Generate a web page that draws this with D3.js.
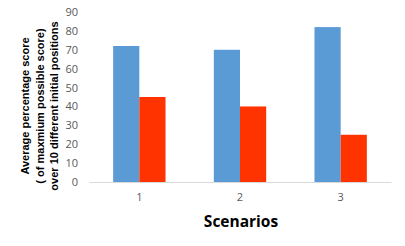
<!DOCTYPE html>
<html lang="en">
<head>
<meta charset="utf-8">
<title>Scenarios</title>
<script src="https://d3js.org/d3.v7.min.js"></script>
<style>
  body { margin: 0; background: #fff; }
</style>
</head>
<body>
<div id="chart"></div>
<script>
  // Data
  var scenarios = ["1", "2", "3"];
  var seriesNames = ["A", "B"];
  var seriesA = [72, 70, 82];
  var seriesB = [45, 40, 25];
  var yTicks = [0, 10, 20, 30, 40, 50, 60, 70, 80, 90];
  var titleLines = ["Average percentage score", "( of maxmium possible score)", "over 10 different initial positions"];

  var colors = ["#5b9bd5", "#ff3300"];
  var W = 405, H = 246;
  var margin = {top: 12, right: 14, bottom: 64, left: 89};
  var width = W - margin.left - margin.right,
      height = H - margin.top - margin.bottom;

  var svg = d3.select("#chart").append("svg")
    .attr("width", W).attr("height", H);
  var g = svg.append("g")
    .attr("transform", "translate(" + margin.left + "," + margin.top + ")");

  var x = d3.scaleBand().domain(scenarios).range([0, width]).paddingInner(0.48).paddingOuter(0.24);
  var x1 = d3.scaleBand().domain(seriesNames).range([0, x.bandwidth()]);
  var y = d3.scaleLinear().domain([0, 90]).range([height, 0]);

  // y axis labels (no line)
  var yAxis = g.append("g")
    .call(d3.axisLeft(y).tickValues(yTicks).tickSize(0).tickPadding(11));
  yAxis.select(".domain").remove();
  yAxis.selectAll("text")
    .attr("font-family", "'Open Sans', sans-serif")
    .attr("font-size", "11px")
    .attr("fill", "#595959");

  // bars
  var rows = scenarios.map(function(s, i) { return {s: s, v: [seriesA[i], seriesB[i]]}; });
  var grp = g.selectAll(".grp").data(rows).enter().append("g")
    .attr("transform", function(d) { return "translate(" + x(d.s) + ",0)"; });
  grp.selectAll("rect")
    .data(function(d) { return d.v.map(function(v, j) { return {k: seriesNames[j], v: v, j: j}; }); })
    .enter().append("rect")
    .attr("x", function(d) { return x1(d.k); })
    .attr("width", x1.bandwidth())
    .attr("y", function(d) { return y(d.v); })
    .attr("height", function(d) { return height - y(d.v); })
    .attr("fill", function(d) { return colors[d.j]; });

  // x axis
  var xAxis = g.append("g")
    .attr("transform", "translate(0," + height + ")")
    .call(d3.axisBottom(x).tickSize(0).tickPadding(11));
  xAxis.select(".domain").attr("stroke", "#d9d9d9").attr("stroke-width", 1);
  xAxis.selectAll("text")
    .attr("font-family", "'Open Sans', sans-serif")
    .attr("font-size", "11px")
    .attr("fill", "#595959");

  // x title
  svg.append("text")
    .attr("x", 241).attr("y", 227)
    .attr("text-anchor", "middle")
    .attr("font-family", "'Open Sans', sans-serif")
    .attr("font-weight", "bold")
    .attr("font-size", "15.5px")
    .attr("fill", "#000")
    .text("Scenarios");

  // y title, three lines
  var yt = svg.append("text")
    .attr("transform", "translate(29,106) rotate(-90)")
    .attr("text-anchor", "middle")
    .attr("font-family", "'Liberation Sans', Arial, sans-serif")
    .attr("font-weight", "bold")
    .attr("font-size", "11px")
    .attr("fill", "#000");
  yt.selectAll("tspan").data(titleLines).enter().append("tspan")
    .attr("x", 0)
    .attr("dy", function(d, i) { return i === 0 ? 0 : 14.5; })
    .text(function(d) { return d; });
</script>
</body>
</html>
